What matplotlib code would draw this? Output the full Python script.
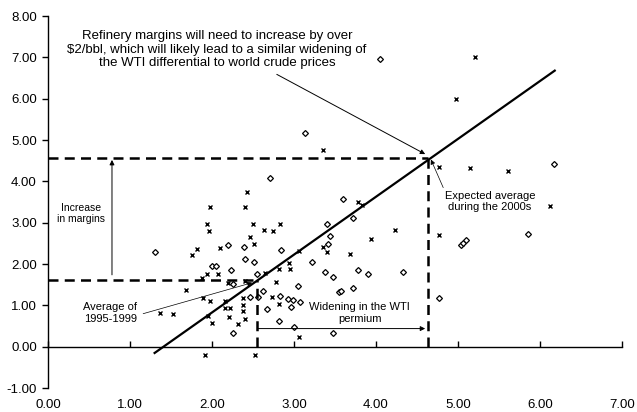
import matplotlib.pyplot as plt
from matplotlib.ticker import FormatStrFormatter

plt.rcParams['font.family'] = ['Liberation Sans', 'DejaVu Sans']

# scatter data
cross_x = [5.21, 4.98, 3.35, 2.43, 1.98, 2.40, 1.94, 1.96, 2.50, 2.63, 2.74, 2.83,
           2.46, 2.51, 2.10, 1.76, 1.82, 3.06, 2.94, 2.95, 2.82, 2.07, 1.88, 1.94,
           2.20, 2.40, 2.65, 1.68, 1.89, 1.98, 2.16, 1.37, 1.52, 1.95, 2.00, 2.21,
           2.16, 2.22, 2.38, 2.38, 2.38, 2.40, 2.32, 1.91, 2.52, 2.73, 2.82, 2.78,
           3.06, 3.35, 3.40, 3.78, 3.83, 4.23, 3.94, 3.68, 4.77, 5.15, 5.61, 4.77,
           6.12]
cross_y = [7.02, 6.00, 4.77, 3.75, 3.39, 3.39, 2.98, 2.81, 2.98, 2.83, 2.81, 2.98,
           2.66, 2.49, 2.40, 2.23, 2.37, 2.32, 2.03, 1.89, 1.89, 1.77, 1.67, 1.77,
           1.55, 1.60, 1.79, 1.38, 1.19, 1.11, 1.11, 0.82, 0.80, 0.75, 0.58, 0.73,
           0.94, 0.94, 1.19, 1.02, 0.87, 0.68, 0.56, -0.19, -0.19, 1.21, 1.04, 1.57,
           0.24, 2.42, 2.30, 3.49, 3.44, 2.83, 2.61, 2.25, 4.36, 4.33, 4.26, 2.71,
           3.41]

diam_x = [4.05, 3.13, 2.71, 1.30, 2.00, 2.05, 2.23, 2.26, 2.20, 2.39, 2.40, 2.51,
          2.84, 3.22, 3.40, 3.44, 3.41, 2.26, 3.05, 3.38, 3.48, 3.55, 2.62, 2.46,
          2.56, 2.93, 2.99, 3.07, 2.96, 2.67, 2.82, 3.00, 3.48, 3.60, 3.72, 3.78,
          3.90, 4.33, 3.57, 3.72, 4.77, 5.04, 5.06, 5.10, 5.85, 6.17, 2.55, 2.83]
diam_y = [6.95, 5.18, 4.09, 2.30, 1.96, 1.96, 1.86, 1.53, 2.45, 2.42, 2.13, 2.06,
          2.35, 2.06, 2.98, 2.69, 2.49, 0.34, 1.48, 1.82, 1.69, 1.33, 1.36, 1.21,
          1.21, 1.16, 1.14, 1.09, 0.97, 0.92, 0.63, 0.48, 0.34, 3.58, 3.12, 1.86,
          1.77, 1.82, 1.36, 1.43, 1.19, 2.47, 2.52, 2.59, 2.74, 4.43, 1.77, 1.23]

# trend line and reference levels
fit_x = [1.30, 6.18]
fit_y = [-0.15, 6.68]
avg_past = (2.55, 1.62)     # average of 1995-1999
avg_future = (4.64, 4.57)   # expected average during the 2000s

fig = plt.figure(figsize=(6.37, 4.12), dpi=100)
ax = fig.add_axes([0.0754, 0.058, 0.901, 0.903])

ax.plot(cross_x, cross_y, 'x', color='black', ms=3.3, mew=1.0)
ax.plot(diam_x, diam_y, 'D', color='black', mfc='white', ms=3.0, mew=0.9)
ax.plot(fit_x, fit_y, color='black', lw=1.6)

dash = (0, (4, 2.5))
ax.plot([0, avg_future[0]], [avg_future[1]] * 2, color='black', lw=1.8, ls=dash)
ax.plot([avg_future[0]] * 2, [0, avg_future[1]], color='black', lw=1.8, ls=dash)
ax.plot([0, avg_past[0]], [avg_past[1]] * 2, color='black', lw=1.8, ls=dash)
ax.plot([avg_past[0]] * 2, [0, avg_past[1]], color='black', lw=1.8, ls=dash)

arrow = dict(arrowstyle='-|>', color='black', lw=0.7, mutation_scale=7,
             shrinkA=0, shrinkB=0)
fs = 8

ax.annotate('', xy=(4.60, 4.66), xytext=(2.79, 6.59), arrowprops=arrow)
ax.text(2.06, 7.19, 'Refinery margins will need to increase by over\n'
        '$2/bbl, which will likely lead to a similar widening of\n'
        'the WTI differential to world crude prices',
        ha='center', va='center', fontsize=9.5, linespacing=1.15)

ax.annotate('', xy=(4.67, 4.53), xytext=(4.82, 3.85),
            arrowprops=dict(arrow, lw=0.5))
ax.text(5.39, 3.51, 'Expected average\nduring the 2000s',
        ha='center', va='center', fontsize=fs, linespacing=1.2)

ax.annotate('', xy=(0.78, 4.52), xytext=(0.78, 1.74), arrowprops=arrow)
ax.text(0.40, 3.22, 'Increase\nin margins', ha='center', va='center',
        fontsize=7.5, linespacing=1.2)

ax.annotate('', xy=(2.49, 1.55), xytext=(1.16, 0.80), arrowprops=dict(arrow, lw=0.5))
ax.text(0.76, 0.82, 'Average of\n1995-1999', ha='center', va='center',
        fontsize=fs, linespacing=1.2)

ax.annotate('', xy=(4.60, 0.44), xytext=(2.56, 0.44), arrowprops=arrow)
ax.text(3.80, 0.82, 'Widening in the WTI\npermium', ha='center', va='center',
        fontsize=fs, linespacing=1.2)

ax.set_xlim(0, 7)
ax.set_ylim(-1, 8)
ax.set_yticks(range(-1, 9))
ax.yaxis.set_major_formatter(FormatStrFormatter('%.2f'))
ax.tick_params(axis='y', direction='out', length=4, width=1, pad=4, labelsize=9.5)

# x axis line sits at zero, labels stay at the bottom
ax.spines['bottom'].set_position(('data', 0))
ax.set_xticks(range(0, 8))
ax.tick_params(axis='x', direction='in', length=4, width=1, labelbottom=False)
sec = ax.secondary_xaxis('bottom')
sec.set_xticks(range(0, 8))
sec.xaxis.set_major_formatter(FormatStrFormatter('%.2f'))
sec.tick_params(length=0, pad=7.5, labelsize=9.5)
sec.spines['bottom'].set_visible(False)

ax.spines['top'].set_visible(False)
ax.spines['right'].set_visible(False)
ax.spines['left'].set_linewidth(1)
ax.spines['bottom'].set_linewidth(1)

fig.savefig('out.png', dpi=100)
